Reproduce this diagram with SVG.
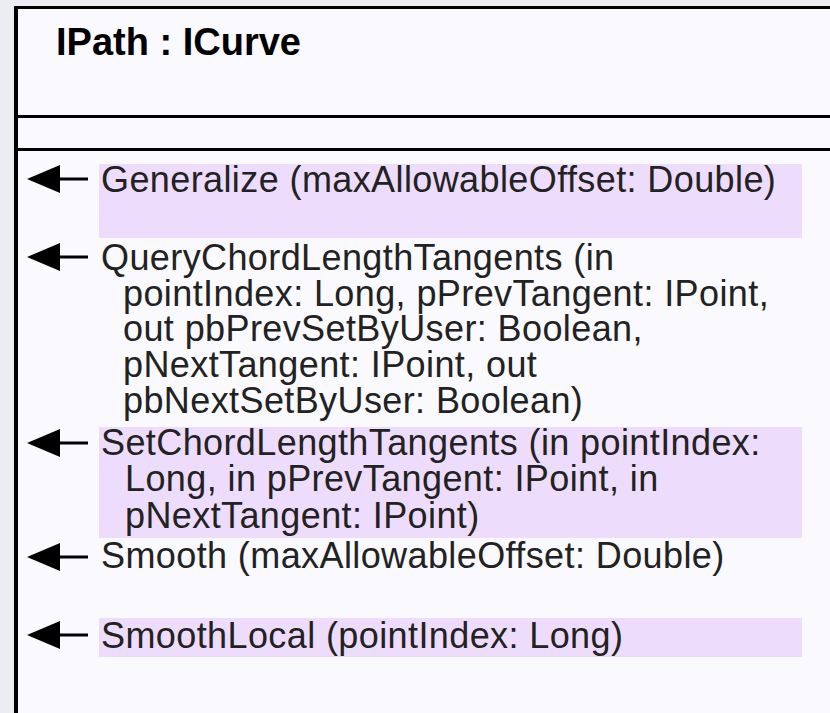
<svg xmlns="http://www.w3.org/2000/svg" xmlns:xlink="http://www.w3.org/1999/xlink" width="830" height="713" viewBox="0 0 830 713">
<defs>
<style>
.bg{fill:#ececf3}
.box{fill:#f9f9fe}
.rule{stroke:#000;stroke-width:3}
.hl{fill:#eedcfc}
.t{font-family:"Liberation Sans",Arial,sans-serif;font-size:36px;letter-spacing:0.4px;fill:#222}
.title{font-family:"Liberation Sans",Arial,sans-serif;font-size:38px;font-weight:bold;fill:#000}
.stem{stroke:#000;stroke-width:3}
</style>
<g id="arrow">
<polygon points="27,0 60,-14 60,14" fill="#000"/>
<line class="stem" x1="58" y1="0" x2="88" y2="0"/>
</g>
</defs>
<rect class="bg" x="0" y="0" width="830" height="713"/>
<g id="class-IPath">
<rect class="box" x="16" y="7" width="814" height="706"/>
<line class="rule" x1="16" y1="7.5" x2="830" y2="7.5"/>
<line x1="16" y1="6" x2="16" y2="713" stroke="#000" stroke-width="4"/>
<line class="rule" x1="16" y1="116.5" x2="830" y2="116.5"/>
<line class="rule" x1="16" y1="149.5" x2="830" y2="149.5"/>
<text class="title" x="56" y="55">IPath : ICurve</text>
<g id="op-Generalize">
<rect class="hl" x="99" y="164" width="703" height="74"/>
<text class="t" x="101" y="192">Generalize (maxAllowableOffset: Double)</text>
</g>
<g id="op-QueryChordLengthTangents">
<text class="t" x="101" y="270">QueryChordLengthTangents (in</text>
<text class="t" x="123" y="306">pointIndex: Long, pPrevTangent: IPoint,</text>
<text class="t" x="123" y="341">out pbPrevSetByUser: Boolean,</text>
<text class="t" x="123" y="377">pNextTangent: IPoint, out</text>
<text class="t" x="123" y="413">pbNextSetByUser: Boolean)</text>
</g>
<g id="op-SetChordLengthTangents">
<rect class="hl" x="99" y="427" width="703" height="111"/>
<text class="t" x="101" y="455">SetChordLengthTangents (in pointIndex:</text>
<text class="t" x="125" y="491">Long, in pPrevTangent: IPoint, in</text>
<text class="t" x="125" y="528">pNextTangent: IPoint)</text>
</g>
<g id="op-Smooth">
<text class="t" x="101" y="568">Smooth (maxAllowableOffset: Double)</text>
</g>
<g id="op-SmoothLocal">
<rect class="hl" x="99" y="618" width="703" height="39"/>
<text class="t" x="101" y="648">SmoothLocal (pointIndex: Long)</text>
</g>
</g>
<g id="connectors">
<use xlink:href="#arrow" transform="translate(0,179)"/>
<use xlink:href="#arrow" transform="translate(0,257)"/>
<use xlink:href="#arrow" transform="translate(0,443)"/>
<use xlink:href="#arrow" transform="translate(0,557)"/>
<use xlink:href="#arrow" transform="translate(0,635)"/>
</g>
</svg>
